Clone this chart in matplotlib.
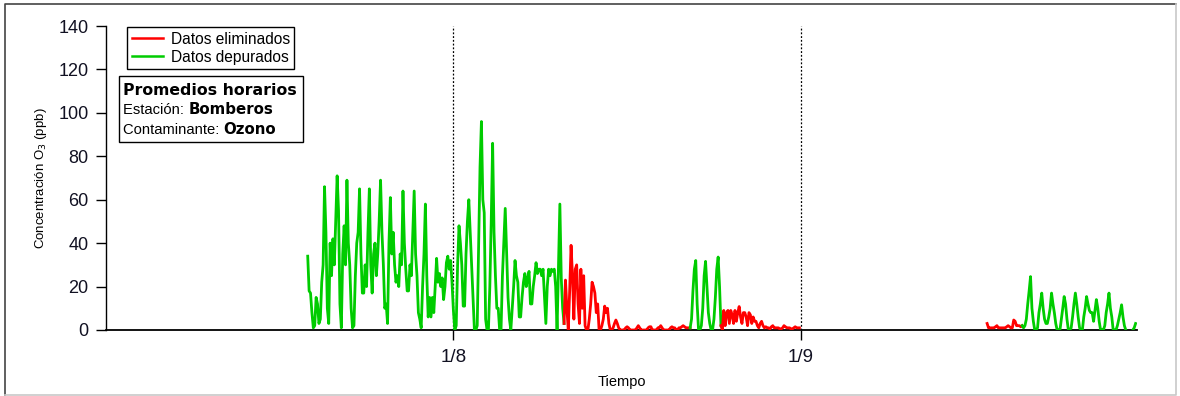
import numpy as np
import pandas as pd
import matplotlib
matplotlib.use('Agg')
import matplotlib.pyplot as plt
from matplotlib.lines import Line2D
from matplotlib.patches import Rectangle

# Promedios horarios de ozono, estacion Bomberos (valores cada 3 h: 00, 03, ..., 21 h)
inicio_dep_1 = '2015-07-19 00:00'
depurados_1 = [
    34, 18, 17, 8, 1, 2, 15, 12,        # 19/7
    3, 5, 22, 30, 66, 45, 10, 3,        # 20/7
    40, 25, 42, 30, 50, 71, 55, 12,     # 21/7
    1, 35, 48, 30, 69, 40, 30, 10,      # 22/7
    1, 2, 25, 40, 45, 65, 35, 17,       # 23/7
    17, 30, 20, 45, 65, 30, 17, 35,     # 24/7
    40, 25, 35, 50, 69, 45, 30, 10,     # 25/7
    12, 3, 40, 61, 35, 45, 30, 22,      # 26/7
    25, 20, 35, 30, 64, 40, 28, 18,     # 27/7
    18, 30, 25, 45, 64, 35, 25, 8,      # 28/7
    5, 1, 20, 35, 58, 25, 6, 15,        # 29/7
    6, 15, 8, 20, 33, 22, 26, 20,       # 30/7
    24, 14, 20, 31, 34, 28, 32, 22,     # 31/7
    9, 0, 2, 30, 48, 40, 30, 11,        # 1/8
    11, 35, 50, 60, 45, 31, 15, 0,      # 2/8
    0, 2, 40, 75, 96, 60, 54, 5,        # 3/8
    0, 0, 20, 50, 86, 45, 25, 10,       # 4/8
    10, 0, 0, 25, 40, 56, 35, 15,       # 5/8
    5, 0, 10, 20, 32, 25, 22, 6,        # 6/8
    6, 15, 22, 26, 20, 24, 27, 12,      # 7/8
    12, 20, 25, 31, 26, 28, 28, 25,     # 8/8
    28, 15, 3, 20, 28, 25, 28, 27,      # 9/8
    28, 20, 0, 30, 58, 24, 10, 3,       # 10/8
]

inicio_elim_1 = '2015-08-11 00:00'
eliminados_1 = [
    23, 10, 0, 18, 39, 25, 5, 28,       # 11/8
    30, 12, 3, 28, 10, 25, 2, 0,        # 12/8
    0, 5, 12, 22, 20, 17, 8, 12,        # 13/8
    0, 0, 2, 5, 11, 8, 10, 3,           # 14/8
    0, 0, 1, 3, 4.6, 3, 1, 0,           # 15/8
    0, 0, 0, 1, 1.5, 1, 0, 0,           # 16/8
    0, 0, 0, 1, 2, 1, 0, 0,             # 17/8
    0, 0, 0, 1, 1.5, 1.5, 0, 0,         # 18/8
    0, 0, 1, 1, 2, 1, 0, 0,             # 19/8
    0, 0, 0, 1, 1.5, 1, 1, 0,           # 20/8
    0, 1, 1, 1.5, 2, 1.5, 1, 1,         # 21/8
    1, 1,                               # 22/8
]

inicio_dep_2 = '2015-08-22 06:00'
depurados_2 = [
    5, 18, 28, 32, 12, 0,               # 22/8
    0, 2, 10, 25, 31.6, 20, 8, 3,       # 23/8
    0, 0, 5, 15, 28, 33.6, 20, 2,       # 24/8
]

inicio_elim_2 = '2015-08-25 00:00'
eliminados_2 = [
    0, 9, 2, 8, 9, 3, 9, 7,             # 25/8
    3, 9, 4, 8, 10.8, 6, 3, 8,          # 26/8
    8, 6, 2, 8, 7, 3, 6, 4,             # 27/8
    4, 2, 1, 3, 4, 2, 1, 1.5,           # 28/8
    1, 1, 0.5, 1.5, 2, 1, 1, 1,         # 29/8
    1, 0.5, 0.5, 1, 2, 1.5, 1, 1,       # 30/8
    1, 0.5, 0.5, 1, 1.5, 1, 1, 1,       # 31/8
]

inicio_elim_3 = '2015-09-17 15:00'
eliminados_3 = [
    3, 1, 1,                            # 17/9
    1, 1, 1, 1.5, 2, 1, 1, 1,           # 18/9
    1, 1, 1, 1.5, 2, 1.5, 1, 1,         # 19/9
    4.6, 4, 2, 2, 2, 1.5, 2,            # 20/9
]

inicio_dep_3 = '2015-09-20 21:00'
depurados_3 = [
    1,                                  # 20/9
    2, 5, 12, 18, 24.6, 10, 4, 0,       # 21/9
    0, 1, 8, 12, 17, 10, 5, 3,          # 22/9
    3, 6, 10, 17, 12, 8, 3, 0,          # 23/9
    0, 0, 5, 10, 15.4, 12, 5, 0,        # 24/9
    0, 1, 6, 12, 17, 12, 6, 1,          # 25/9
    0, 0, 6, 10, 15.4, 12, 9, 8,        # 26/9
    8, 4, 9, 14, 10, 4, 0, 0,           # 27/9
    0, 2, 8, 12, 17, 10, 6, 0,          # 28/9
    0, 0, 2, 5, 8, 11.6, 6, 2,          # 29/9
    0, np.nan, np.nan, np.nan, np.nan, 0, 1, 3,  # 30/9
]

segmentos = [
    (inicio_dep_1, depurados_1, 'dep'),
    (inicio_elim_1, eliminados_1, 'elim'),
    (inicio_dep_2, depurados_2, 'dep'),
    (inicio_elim_2, eliminados_2, 'elim'),
    (inicio_elim_3, eliminados_3, 'elim'),
    (inicio_dep_3, depurados_3, 'dep'),
]

colores = {'dep': '#00cc00', 'elim': '#ff0000'}
fechas_ticks = pd.to_datetime(['2015-08-01', '2015-09-01'])
etiquetas_ticks = ['1/8', '1/9']

fig = plt.figure(figsize=(11.8, 3.96), dpi=100)
ax = fig.add_axes([106 / 1180, 66 / 396, 1031 / 1180, 304 / 396])

prev = None
for inicio, valores, tipo in segmentos:
    t = pd.date_range(inicio, periods=len(valores), freq='3h')
    s = pd.Series(valores, index=t, dtype=float)
    tramo = s
    # unir con el ultimo punto del tramo anterior si son consecutivos
    if prev is not None and t[0] - prev.index[-1] == pd.Timedelta('3h'):
        tramo = pd.concat([prev.iloc[-1:], s])
    ax.plot(tramo.index, tramo.values, color=colores[tipo], lw=2.0, zorder=3)
    prev = s

for f in fechas_ticks:
    ax.axvline(f, color='black', ls=(0, (1.5, 1.5)), lw=0.9, zorder=2)

ax.set_xlim(pd.Timestamp('2015-07-01'), pd.Timestamp('2015-10-01'))
ax.set_ylim(0, 140)
ax.set_yticks(np.arange(0, 141, 20))
ax.set_xticks(fechas_ticks)
ax.set_xticklabels(etiquetas_ticks)

for side in ['top', 'right']:
    ax.spines[side].set_visible(False)
ax.spines['left'].set_linewidth(1.0)
ax.spines['bottom'].set_linewidth(1.3)

ax.tick_params(axis='y', direction='out', length=7.5, width=1, pad=5,
               labelsize=13)
ax.tick_params(axis='x', direction='out', length=7.5, width=1, pad=6,
               labelsize=13.5)
for lab in ax.get_xticklabels() + ax.get_yticklabels():
    lab.set_family('Liberation Sans')
    lab.set_color('#111122')

ax.set_ylabel('Concentración O$_3$ (ppb)', fontsize=9.5, family='Liberation Sans')
ax.yaxis.set_label_coords(-0.055, 0.5)
ax.set_xlabel('Tiempo', fontsize=10.5, family='Liberation Sans')
ax.xaxis.set_label_coords(0.5, -0.149)

handles = [Line2D([], [], color=colores['elim'], lw=1.8),
           Line2D([], [], color=colores['dep'], lw=1.8)]
leg = ax.legend(handles, ['Datos eliminados', 'Datos depurados'],
                loc='upper left', bbox_to_anchor=(0.0204, 0.9967),
                frameon=True, fancybox=False, framealpha=1, borderaxespad=0,
                borderpad=0.3, handlelength=2.0, handletextpad=0.5,
                labelspacing=0.2, prop={'family': 'Liberation Sans', 'size': 11.2})
leg.get_frame().set_edgecolor('black')
leg.get_frame().set_linewidth(1.0)

# recuadro con la informacion de la estacion
ax.add_patch(Rectangle((13 / 1031, 0.617), 184 / 1031, 0.218,
                       transform=ax.transAxes, fill=True, fc='white',
                       ec='black', lw=1.0, zorder=5))
x_txt = 17 / 1031
ax.text(x_txt, 0.772, 'Promedios horarios', transform=ax.transAxes,
        fontsize=11.3, weight='bold', family='DejaVu Sans', va='baseline',
        zorder=6)
lineas = [('Estación: ', 'Bomberos', 0.7096), ('Contaminante: ', 'Ozono', 0.646)]
fig.canvas.draw()
renderer = fig.canvas.get_renderer()
for normal, negrita, y in lineas:
    t1 = ax.text(x_txt, y, normal, transform=ax.transAxes, fontsize=10.6,
                 family='Liberation Sans', va='baseline', zorder=6)
    bb = t1.get_window_extent(renderer)
    x_fin = ax.transAxes.inverted().transform((bb.x1, bb.y0))[0]
    ax.text(x_fin, y, negrita, transform=ax.transAxes, fontsize=10.8,
            weight='bold', family='DejaVu Sans', va='baseline', zorder=6)

# marco exterior de la figura
fig.add_artist(Line2D([5 / 1180, 5 / 1180, 1176 / 1180], [1 / 396, 392 / 396, 392 / 396],
                      transform=fig.transFigure, color='#444444', lw=1.2))
fig.add_artist(Line2D([5 / 1180, 1176 / 1180, 1176 / 1180], [1 / 396, 1 / 396, 392 / 396],
                      transform=fig.transFigure, color='#c8c8c8', lw=1.2))

fig.savefig('out.png', dpi=100)
